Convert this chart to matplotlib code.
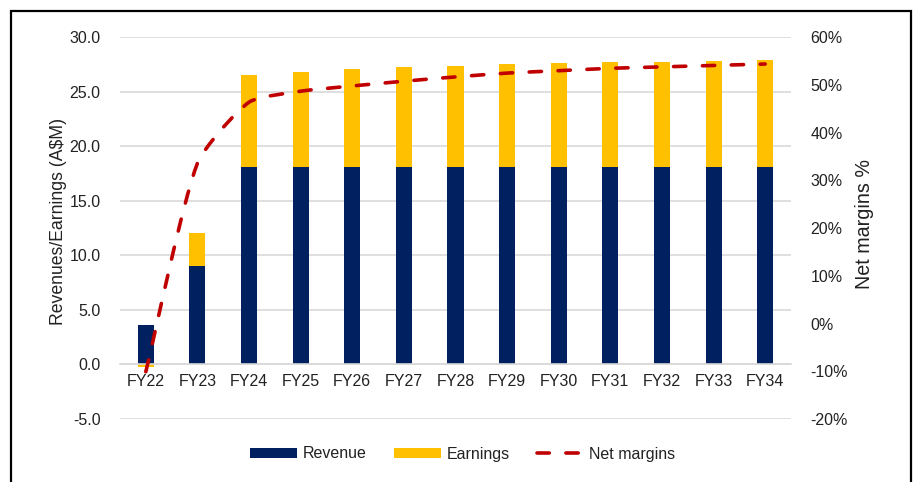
import numpy as np
import matplotlib
matplotlib.use("Agg")
import matplotlib.pyplot as plt
from matplotlib.path import Path
from matplotlib.patches import PathPatch, Patch, Rectangle
from matplotlib.lines import Line2D

plt.rcParams['font.family'] = ['Liberation Sans', 'DejaVu Sans']

categories = ["FY22", "FY23", "FY24", "FY25", "FY26", "FY27", "FY28",
              "FY29", "FY30", "FY31", "FY32", "FY33", "FY34"]
revenue = [3.6, 9.0, 18.1, 18.1, 18.1, 18.1, 18.1, 18.1, 18.1, 18.1, 18.1, 18.1, 18.1]
earnings = [-0.25, 3.1, 8.4, 8.7, 9.0, 9.2, 9.3, 9.45, 9.55, 9.62, 9.68, 9.74, 9.8]
net_margins = [-10.1, 33.6, 46.4, 48.7, 49.8, 50.8, 51.7, 52.5, 53.0, 53.5, 53.8, 54.1, 54.4]

left_ticks = [-5, 0, 5, 10, 15, 20, 25, 30]
right_ticks = [-20, -10, 0, 10, 20, 30, 40, 50, 60]

NAVY = "#002060"
GOLD = "#FFC000"
RED = "#C00000"
GRID = "#D9D9D9"
TXT = "#222222"
FS = 11.5

fig = plt.figure(figsize=(9.18, 4.82), dpi=100)
ax = fig.add_axes([120/918, 1-419/482, (791-120)/918, (419-37.3)/482])
ax2 = ax.twinx()

x = np.arange(len(categories))
rev = np.array(revenue)
ern = np.array(earnings)
bw = 0.31
ax.bar(x, rev, width=bw, color=NAVY, zorder=2)
ax.bar(x, ern, width=bw, bottom=np.where(ern >= 0, rev, 0), color=GOLD, zorder=2)

ax.set_xlim(-0.5, len(categories) - 0.5)
ax.set_ylim(-5, 30)
ax.set_yticks(left_ticks)
ax.set_yticklabels([f"{v:.1f}" for v in left_ticks])
ax.yaxis.grid(True, color=GRID, linewidth=1.2)
ax.set_axisbelow(True)
ax.set_xticks(x)
ax.set_xticklabels(categories)
for s in ["top", "right", "left"]:
    ax.spines[s].set_visible(False)
ax.spines["bottom"].set_position(("data", 0))
ax.spines["bottom"].set_color(GRID)
ax.spines["bottom"].set_linewidth(1.2)
ax.tick_params(axis="x", length=0, pad=7, labelsize=FS, colors=TXT)
ax.tick_params(axis="y", length=0, pad=14, labelsize=FS, colors=TXT)
ax.set_ylabel("Revenues/Earnings (A$M)", fontsize=12.7, color=TXT)
ax.yaxis.set_label_coords((67-120)/671, 1-(221.5-37.3)/381.7)

ax2.set_ylim(-20, 60)
ax2.set_yticks(right_ticks)
ax2.set_yticklabels([f"{v}%" for v in right_ticks])
for s in ax2.spines.values():
    s.set_visible(False)
ax2.tick_params(axis="y", length=0, pad=14, labelsize=FS, colors=TXT)
ax2.set_ylabel("Net margins %", fontsize=14.2, color=TXT)
ax2.yaxis.set_label_coords((855-120)/671, 1-(224-37.3)/381.7)

# smoothed net margin line: Bezier built in screen space from the data points
P = ax2.transData.transform(np.column_stack([x, np.array(net_margins, dtype=float)]))
n = len(P)
K = 0.2
verts = [P[0]]
codes = [Path.MOVETO]


def unit(v):
    return v / np.hypot(*v)


for i in range(n - 1):
    p0 = P[i - 1] if i > 0 else P[i]
    p1 = P[i]
    p2 = P[i + 1]
    p3 = P[i + 2] if i + 2 < n else P[i + 1]
    seg = np.hypot(*(p2 - p1))
    c1 = p1 + unit(p2 - p0) * seg * K
    c2 = p2 - unit(p3 - p1) * seg * K
    verts += [c1, c2, p2]
    codes += [Path.CURVE4] * 3
verts = ax2.transData.inverted().transform(np.array(verts))
dash = (0, (3.4, 4.6))
patch = PathPatch(Path(verts, codes), fill=False, edgecolor=RED, linewidth=2.6,
                  linestyle=dash, capstyle="round", zorder=3)
ax2.add_patch(patch)

handles = [Patch(facecolor=NAVY, edgecolor="none", label="Revenue"),
           Patch(facecolor=GOLD, edgecolor="none", label="Earnings"),
           Line2D([], [], color=RED, linewidth=2.6, linestyle=dash,
                  dash_capstyle="round", label="Net margins")]
fig.legend(handles=handles, loc="center", bbox_to_anchor=(0.504, 1-454/482),
           ncol=3, frameon=False, fontsize=FS, handlelength=2.95,
           handleheight=0.55, handletextpad=0.35, columnspacing=1.7,
           labelcolor=TXT)

fig.patches.append(Rectangle((11/918, -0.05), (911-11)/918, 1-11/482+0.05,
                             transform=fig.transFigure, fill=False,
                             edgecolor="black", linewidth=1.6, clip_on=False))

fig.savefig("out.png", dpi=100)
